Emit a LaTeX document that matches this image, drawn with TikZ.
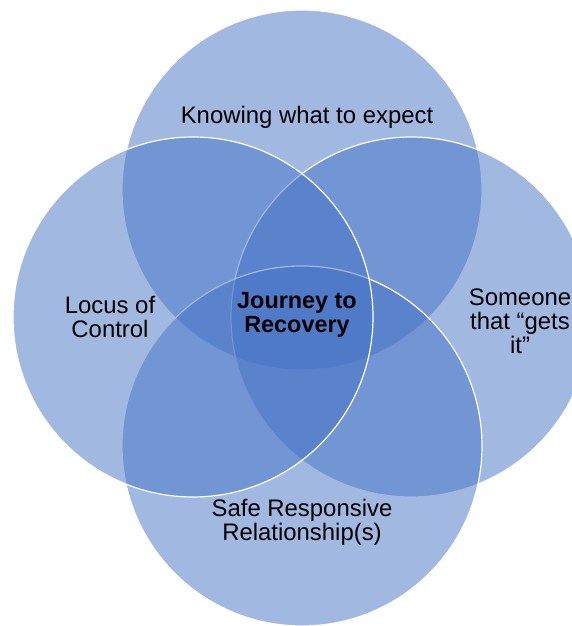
\documentclass[tikz,border=0pt]{standalone}
\usepackage{fontspec}
\setmainfont{Liberation Sans}
\usepackage{xcolor}
\definecolor{ringblue}{HTML}{4472C4}

\begin{document}
\begin{tikzpicture}[
            x=1pt, y=1pt,
            ring/.style={circle, minimum size=360pt, inner sep=0pt, fill=ringblue, fill opacity=0.5, draw=white, draw opacity=1, line width=1.2pt},
            label/.style={align=center, text=black, font=\fontsize{23.9}{23.8}\selectfont},
            hub/.style={label, font=\fontsize{23.4}{24.6}\selectfont\bfseries}
        ]

            \clip (0,0) rectangle (572,626);

% Four overlapping rings
            \node[ring] (top_ring) at (302,436) {};
            \node[ring] (right_ring) at (411,309) {};
            \node[ring] (bottom_ring) at (302,180) {};
            \node[ring] (left_ring) at (193,309) {};

% Ring labels
            \node[label] (expect) at (307,509) {Knowing what to expect};
            \node[label] (locus) at (110,309) {Locus of\\Control};
            \node[label] (gets_it) at (520,305) {Someone\\that “gets\\it”};
            \node[label] (safe) at (302,104) {Safe Responsive\\Relationship(s)};

% Centre
            \node[hub] (journey) at (297,311) {Journey to\\Recovery};

        \end{tikzpicture}
\end{document}
